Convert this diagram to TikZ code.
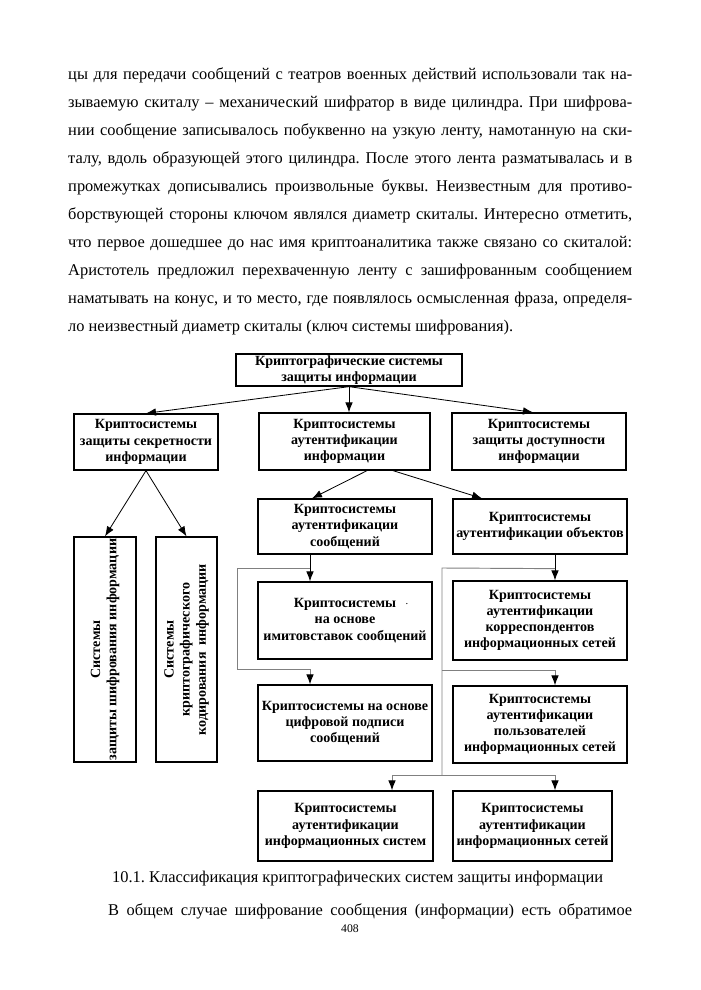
\documentclass[tikz,border=0pt]{standalone}
\usepackage{fontspec}
\setmainfont{Liberation Serif}
\usetikzlibrary{calc,arrows.meta}
\frenchspacing

\tikzset{
  box/.style={draw, line width=1.1pt, align=center, inner sep=1pt,
    font=\fontsize{12}{13.8}\selectfont\bfseries},
  txt/.style={inner sep=0pt, anchor=base west, font=\fontsize{14}{16}\selectfont},
  arr/.style={line width=0.7pt, -{Latex[length=8.5pt,width=6.5pt]}},
  aux/.style={draw=gray, line width=0.8pt},
  auxarr/.style={aux, -{Latex[length=8.5pt,width=6.5pt,color=black]}}
}

\begin{document}
\begin{tikzpicture}[x=0.03cm,y=-0.03cm]
  \useasboundingbox (0,0) rectangle (700,990);

  %% Text of the page above the figure
  \foreach \txtline [count=\i] in {
    {цы для передачи сообщений с театров военных действий использовали так на-},
    {зываемую скиталу – механический шифратор в виде цилиндра. При шифрова-},
    {нии сообщение записывалось побуквенно на узкую ленту, намотанную на ски-},
    {талу, вдоль образующей этого цилиндра. После этого лента разматывалась и в},
    {промежутках дописывались произвольные буквы. Неизвестным для противо-},
    {борствующей стороны ключом являлся диаметр скиталы. Интересно отметить,},
    {что первое дошедшее до нас имя криптоаналитика также связано со скиталой:},
    {Аристотель предложил перехваченную ленту с зашифрованным сообщением},
    {наматывать на конус, и то место, где появлялось осмысленная фраза, определя-}}
  {
    \node[txt] (L\i) at (68,{80+27.9*(\i-1)}) {\makebox[16.92cm][s]{\txtline}};
  }
  \node[txt] (L10) at (68,331) {ло неизвестный диаметр скиталы (ключ системы шифрования).};

  %% Boxes of the classification
  \node[box, minimum width=6.78cm, minimum height=0.96cm] (top) at (349,370)
    {Криптографические системы\\ защиты информации};
  \node[box, minimum width=4.32cm, minimum height=1.68cm] (secr) at (146,442)
    {Криптосистемы\\ защиты секретности\\ информации};
  \node[box, minimum width=5.13cm, minimum height=1.71cm] (auth) at (344.5,441.5)
    {Криптосистемы\\ аутентификации\\ информации};
  \node[box, minimum width=5.22cm, minimum height=1.71cm] (dost) at (539,441.5)
    {Криптосистемы\\ защиты доступности\\ информации};

  \node[box, minimum width=1.86cm, minimum height=6.75cm] (shifr) at (105,649.5)
    {\rotatebox{90}{\begin{tabular}{@{}c@{}}Системы\\ защиты шифрования информации\end{tabular}}};
  \node[box, minimum width=1.83cm, minimum height=6.75cm] (kod) at (186.5,649.5)
    {\rotatebox{90}{\begin{tabular}{@{}c@{}}Системы\\ криптографического\\ кодирования\ \ информации\end{tabular}}};

  \node[box, minimum width=5.22cm, minimum height=1.65cm] (soob) at (345,526.5)
    {Криптосистемы\\ аутентификации\\ сообщений};
  \node[box, minimum width=5.22cm, minimum height=2.31cm] (imit) at (345,620.5)
    {Криптосистемы\\ на основе\\ имитовставок сообщений};
  \node[inner sep=0pt, font=\fontsize{9}{9}\selectfont] (dot) at (407,604) {.};
  \node[box, minimum width=5.22cm, minimum height=2.28cm] (cifr) at (345,723)
    {Криптосистемы на основе\\ цифровой подписи\\ сообщений};

  \node[box, minimum width=5.22cm, minimum height=1.65cm] (obj) at (540,526.5)
    {Криптосистемы\\ аутентификации объектов};
  \node[box, minimum width=5.22cm, minimum height=2.37cm] (korr) at (540,620.5)
    {Криптосистемы\\ аутентификации\\ корреспондентов\\ информационных сетей};
  \node[box, minimum width=5.22cm, minimum height=2.31cm] (polz) at (540,724.5)
    {Криптосистемы\\ аутентификации\\ пользователей\\ информационных сетей};

  \node[box, minimum width=5.25cm, minimum height=2.1cm] (isys) at (345.5,826)
    {Криптосистемы\\ аутентификации\\ информационных систем};
  \node[box, minimum width=4.77cm, minimum height=2.1cm] (iset) at (532.5,826)
    {Криптосистемы\\ аутентификации\\ информационных сетей};

  %% Arrows between the levels
  \draw[arr] (top.south) -- (secr.north);
  \draw[arr] (top.south) -- (top.south |- auth.north);
  \draw[arr] (top.south) -- ($(dost.north)+(-6,0)$);
  \draw[arr] (secr.south) -- (shifr.north);
  \draw[arr] (secr.south) -- (kod.north);
  \draw[arr] ($(auth.south)+(22.5,0)$) -- ($(soob.north)+(-33,0)$);
  \draw[arr] ($(auth.south)+(48.5,0)$) -- ($(obj.north)+(-58,0)$);

  %% Left branch: messages
  \coordinate (sb) at ($(soob.south)+(-35,0)$);
  \draw[arr] (sb) -- (sb |- imit.north);
  \draw[auxarr] ($(sb)+(0,14)$) -- ++(-73,0) |- ($(sb |- cifr.north)+(0,-15)$) -- (sb |- cifr.north);

  %% Right branch: objects
  \coordinate (ob) at ($(obj.south)+(15,0)$);
  \coordinate (rs1) at (442,568);
  \coordinate (rs2) at (442,775);
  \draw[arr] (ob) -- (ob |- korr.north);
  \draw[aux] ($(ob)+(0,14)$) -- (rs1) -- (rs2);
  \draw[auxarr] ($(polz.north -| rs1)+(0,-15)$) -| (ob |- polz.north);
  \draw[auxarr] (rs2) -| ($(isys.north)+(46.5,0)$);
  \draw[auxarr] (rs2) -| ($(iset.north)+(22.5,0)$);

  %% Caption and text below
  \node[txt] (cap) at (112,882) {10.1. Классификация криптографических систем защиты информации};
  \node[txt] (L11) at (108,915) {\makebox[15.72cm][s]{В общем случае шифрование сообщения (информации) есть обратимое}};
  \node[inner sep=0pt, font=\fontsize{10}{10}\selectfont] (page) at (350,929) {408};
\end{tikzpicture}
\end{document}
